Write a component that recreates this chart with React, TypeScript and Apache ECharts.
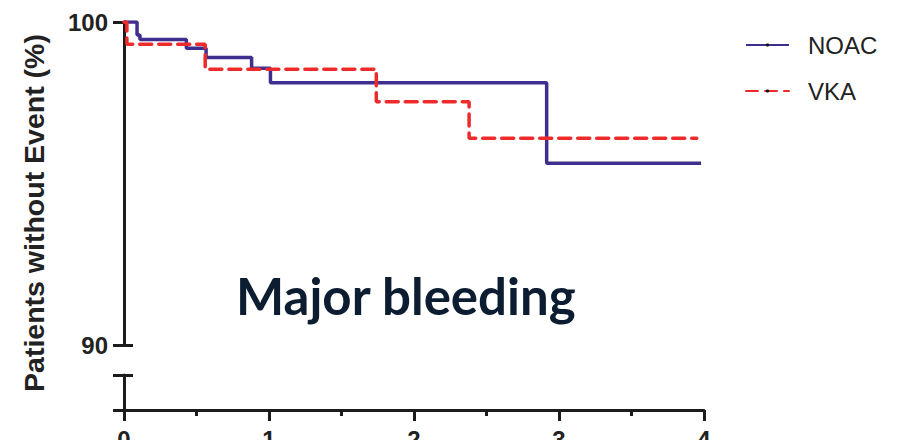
import React, { useEffect, useRef } from "react";
import * as echarts from "echarts";

const noacTime = [0, 0.09, 0.11, 0.43, 0.566, 0.88, 1.01, 2.915, 3.98];
const noacSurv = [100, 99.6, 99.46, 99.19, 98.9, 98.57, 98.12, 95.63, 95.63];
const vkaTime = [0, 0.02, 0.56, 1.74, 2.38, 3.95];
const vkaSurv = [100, 99.31, 98.54, 97.53, 96.4, 96.4];
const seriesNames = ["NOAC", "VKA"];
const xRange = [0, 4];
const yRange = [90, 100];
const chartTitle = "Major bleeding";
const yTitle = "Patients without Event (%)";

const AXIS = "#1c1c1c";
const PURPLE = "#3f2e8e";
const RED = "#ef2a2a";

export default function App() {
  const ref = useRef<HTMLDivElement>(null);
  useEffect(() => {
    if (!ref.current) return;
    const chart = echarts.init(ref.current, null, { renderer: "svg" });
    const axisLine = { show: true, lineStyle: { color: AXIS, width: 3 } };
    chart.setOption({
      animation: false,
      title: {
        text: chartTitle,
        left: 236,
        top: 270,
        padding: 0,
        textStyle: { fontFamily: "Lato", fontWeight: "bold", fontSize: 51, color: "#0c1d31" },
      },
      legend: {
        data: seriesNames,
        orient: "vertical",
        left: 740,
        top: 27,
        itemWidth: 43,
        itemHeight: 4,
        itemGap: 20,
        textStyle: {
          fontFamily: "Liberation Sans",
          fontSize: 24,
          color: "#222",
          lineHeight: 26,
          padding: [0, 0, 0, 14],
        },
      },
      grid: [
        { left: 124, top: 22, width: 580, height: 323, outerBoundsMode: "none", containLabel: false },
        { left: 124, top: 375, width: 580, height: 35, outerBoundsMode: "none", containLabel: false },
      ],
      xAxis: [
        { type: "value", gridIndex: 0, min: xRange[0], max: xRange[1], show: false },
        {
          type: "value",
          gridIndex: 1,
          min: xRange[0],
          max: xRange[1],
          interval: 1,
          axisLine,
          axisTick: { show: true, length: 11, lineStyle: { color: AXIS, width: 3 } },
          minorTick: { show: true, splitNumber: 2, length: 6, lineStyle: { color: AXIS, width: 3 } },
          axisLabel: {
            fontFamily: "Liberation Sans",
            fontWeight: "bold",
            fontSize: 24,
            color: "#222",
            margin: 17,
          },
          splitLine: { show: false },
        },
      ],
      yAxis: [
        {
          type: "value",
          gridIndex: 0,
          position: "left",
          min: yRange[0],
          max: yRange[1],
          interval: 10,
          axisLine,
          axisTick: { show: true, length: 11, lineStyle: { color: AXIS, width: 3 } },
          axisLabel: {
            fontFamily: "Liberation Sans",
            fontWeight: "bold",
            fontSize: 24,
            color: "#222",
            margin: 16,
          },
          splitLine: { show: false },
        },
        {
          type: "value",
          gridIndex: 0,
          position: "left",
          min: yRange[0],
          max: yRange[1],
          axisLine: { show: false },
          axisTick: { show: true, inside: true, length: 9, customValues: [yRange[0]], lineStyle: { color: AXIS, width: 3 } },
          axisLabel: { show: false },
          splitLine: { show: false },
        },
        {
          type: "value",
          gridIndex: 1,
          position: "left",
          min: 0,
          max: 1,
          interval: 1,
          axisLine,
          axisTick: { show: true, length: 11, lineStyle: { color: AXIS, width: 3 } },
          axisLabel: { show: false },
          splitLine: { show: false },
        },
        {
          type: "value",
          gridIndex: 1,
          position: "left",
          min: 0,
          max: 1,
          axisLine: { show: false },
          axisTick: { show: true, inside: true, length: 9, customValues: [1], lineStyle: { color: AXIS, width: 3 } },
          axisLabel: { show: false },
          splitLine: { show: false },
        },
      ],
      graphic: [
        {
          type: "text",
          x: 34,
          y: 213,
          rotation: Math.PI / 2,
          style: {
            text: yTitle,
            fontFamily: "Liberation Sans",
            fontWeight: "bold",
            fontSize: 28.5,
            fill: "#222",
            align: "center",
            verticalAlign: "middle",
          },
        },
      ],
      series: [
        {
          name: seriesNames[0],
          type: "line",
          xAxisIndex: 0,
          yAxisIndex: 0,
          step: "end",
          symbol: "circle",
          symbolSize: 4,
          showSymbol: false,
          itemStyle: { color: "#111" },
          lineStyle: { color: PURPLE, width: 3.5 },
          data: noacTime.map((t, i) => [t, noacSurv[i]]),
          z: 2,
        },
        {
          name: seriesNames[1],
          type: "line",
          xAxisIndex: 0,
          yAxisIndex: 0,
          step: "end",
          symbol: "circle",
          symbolSize: 4,
          showSymbol: false,
          itemStyle: { color: "#111" },
          lineStyle: { color: RED, width: 3.5, type: [12, 7], cap: "round" },
          data: vkaTime.map((t, i) => [t, vkaSurv[i]]),
          z: 3,
        },
      ],
    });
    return () => chart.dispose();
  }, []);
  return (
    <div
      ref={ref}
      style={{ position: "fixed", left: 0, top: 0, width: 899, height: 440, background: "#fff" }}
    />
  );
}
